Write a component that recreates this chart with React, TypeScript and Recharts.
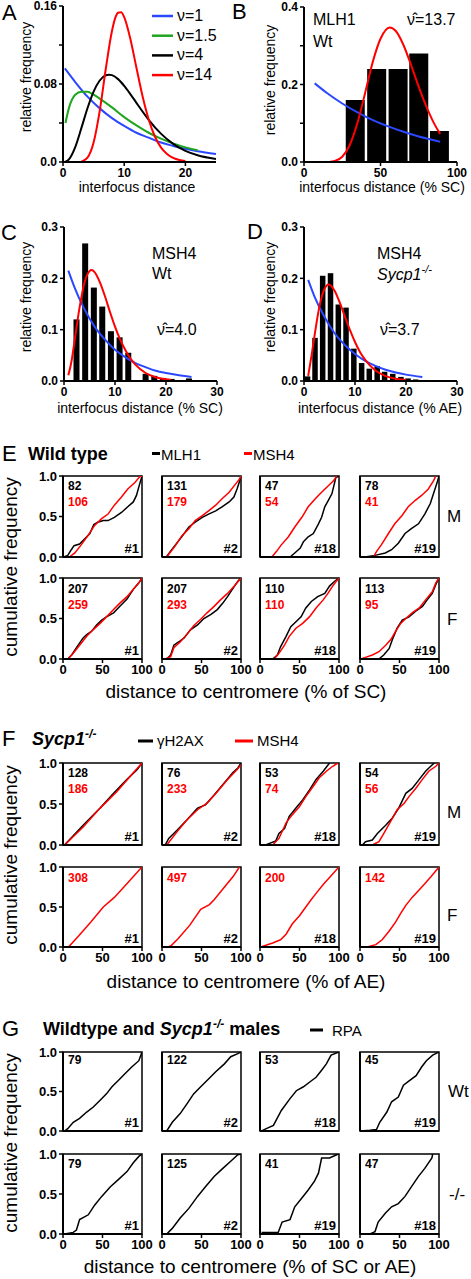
import React from 'react';
import { LineChart, ComposedChart, Line, Bar, XAxis, YAxis, ReferenceArea } from 'recharts';

type Pt = [number, number];

// ---- A: model densities (interfocus distance, mean 10)
const A_LABELS = ['ν=1', 'ν=1.5', 'ν=4', 'ν=14'];
const A_NU1: Pt[] = [[0.3, 0.096], [2, 0.082], [4, 0.067], [6, 0.055], [8, 0.045], [10, 0.037], [12, 0.03], [14, 0.025], [16, 0.02], [18, 0.0165], [20, 0.0135], [22, 0.011], [25, 0.0082]];
const A_NU15: Pt[] = [[0.4, 0.04], [1, 0.056], [2, 0.069], [3, 0.072], [4, 0.072], [5, 0.069], [6, 0.065], [8, 0.056], [10, 0.046], [12, 0.0375], [14, 0.03], [16, 0.024], [18, 0.019], [20, 0.015], [22, 0.012]];
const A_NU4: Pt[] = [[0.3, 0], [1, 0.003], [2, 0.0153], [3, 0.0347], [4, 0.0551], [5, 0.0722], [6, 0.0836], [7, 0.089], [7.5, 0.0896], [8, 0.0891], [9, 0.085], [10, 0.0781], [11, 0.0697], [12, 0.0607], [14, 0.0433], [16, 0.0291], [18, 0.0186], [20, 0.0114], [22, 0.0069], [25, 0.003]];
const A_NU14: Pt[] = [[3, 0.0004], [4, 0.0044], [5, 0.0199], [6, 0.0524], [7, 0.0959], [8, 0.1343], [8.5, 0.147], [9, 0.153], [9.5, 0.1535], [10, 0.1485], [11, 0.1264], [12, 0.0966], [13, 0.0674], [14, 0.0436], [15, 0.0264], [16, 0.015], [17, 0.0082], [18, 0.0042], [19, 0.002], [20, 0.001]];

// ---- B: MLH1 Wt histogram + fits
const B_BIN_X = [33.5, 47.5, 61.5, 75, 88.5];
const B_BIN_Y = [0.16, 0.24, 0.24, 0.28, 0.08];
const B_EXP: Pt[] = [[7, 0.203], [15, 0.178], [25, 0.151], [35, 0.128], [45, 0.108], [55, 0.092], [65, 0.078], [75, 0.066], [85, 0.056], [89, 0.052]];
const B_GAM: Pt[] = [[17, 0.0005], [20, 0.0025], [25, 0.0135], [30, 0.0446], [35, 0.1017], [40, 0.179], [45, 0.259], [50, 0.318], [56, 0.347], [60, 0.338], [65, 0.302], [70, 0.25], [75, 0.194], [80, 0.143], [85, 0.0997], [89, 0.0725]];

// ---- C: MSH4 Wt
const C_BIN_X = [2.45, 4.15, 5.85, 7.5, 9.2, 10.9, 12.6, 14.3, 16.0, 17.7, 19.4, 21.1, 22.8, 24.5];
const C_BIN_Y = [0.12, 0.268, 0.182, 0.145, 0.097, 0.085, 0.055, 0, 0.014, 0.01, 0.006, 0.004, 0, 0.005];
const C_GAM: Pt[] = [[0.85, 0.011], [1.5, 0.04], [2, 0.073], [3, 0.14], [4, 0.191], [5, 0.214], [5.4, 0.216], [6, 0.212], [7, 0.193], [8, 0.166], [9, 0.135], [10, 0.106], [11, 0.081], [12, 0.061], [13, 0.044], [14, 0.032], [16, 0.0156], [18, 0.0073], [20, 0.0033], [21, 0.002]];
const C_EXP: Pt[] = [[0.85, 0.215], [2, 0.184], [4, 0.14], [6, 0.106], [8, 0.081], [10, 0.061], [12, 0.0465], [14, 0.035], [16, 0.027], [18, 0.02], [20, 0.0155], [22, 0.012], [25, 0.0078]];

// ---- D: MSH4 Sycp1-/-
const D_BIN_X = [0.7, 2.16, 3.66, 5.2, 6.73, 8.24, 9.77, 11.3, 12.8, 14.35, 15.8, 17.4, 19.0, 20.4, 21.9, 23.5];
const D_BIN_Y = [0.009, 0.084, 0.205, 0.21, 0.149, 0.143, 0.063, 0.035, 0.024, 0.029, 0.018, 0.014, 0.008, 0.005, 0.003, 0.002];
const D_GAM: Pt[] = [[0.82, 0.01], [1.5, 0.051], [2, 0.084], [3, 0.144], [4, 0.179], [4.87, 0.188], [6, 0.176], [7, 0.153], [8, 0.126], [9, 0.0995], [10, 0.076], [11, 0.056], [12, 0.041], [14, 0.0204], [16, 0.0096], [18, 0.0044], [20, 0.0019]];
const D_EXP: Pt[] = [[0.82, 0.197], [2, 0.166], [4, 0.125], [6, 0.093], [8, 0.07], [10, 0.0525], [12, 0.039], [14, 0.0295], [16, 0.022], [18, 0.0166], [20, 0.0124], [23.2, 0.0078]];

// ---- E: wild type, cumulative distance to centromere
const CHR = ['#1', '#2', '#18', '#19'];
const E_N_M = [[82, 106], [131, 179], [47, 54], [78, 41]];
const E_N_F = [[207, 259], [207, 293], [110, 110], [113, 95]];
const E_M_MLH1: Pt[][] = [
  [[1, 0], [6, 0.02], [10.5, 0.09], [14, 0.14], [21, 0.16], [27, 0.22], [34, 0.29], [39, 0.4], [44, 0.43], [51, 0.45], [57, 0.45], [65, 0.49], [74, 0.55], [82, 0.62], [89, 0.68], [93, 0.76], [97, 0.9], [100, 1]],
  [[5.5, 0], [10.6, 0.07], [17, 0.15], [25, 0.25], [34, 0.37], [42, 0.43], [51, 0.49], [59, 0.53], [68, 0.57], [76, 0.62], [85, 0.68], [91, 0.74], [95, 0.84], [98, 0.93], [100, 1]],
  [[38, 0], [44, 0.05], [51, 0.11], [55, 0.19], [61, 0.25], [67.5, 0.29], [74, 0.41], [78, 0.49], [82, 0.62], [86.5, 0.7], [91, 0.78], [94, 0.9], [96, 0.98], [100, 1]],
  [[6, 0], [19, 0.02], [32, 0.05], [40, 0.09], [48.5, 0.17], [57, 0.29], [65, 0.35], [74, 0.41], [82, 0.53], [89, 0.66], [93, 0.78], [97, 0.9], [100, 1]],
];
const E_M_MSH4: Pt[][] = [
  [[8, 0], [15, 0.05], [23, 0.15], [32, 0.27], [40, 0.39], [48.5, 0.47], [57, 0.53], [65, 0.64], [74, 0.74], [82, 0.84], [91, 0.92], [97, 0.99], [100, 1]],
  [[6, 0], [17, 0.14], [25, 0.26], [34, 0.35], [42, 0.45], [51, 0.51], [59, 0.57], [68, 0.64], [76, 0.72], [85, 0.8], [93, 0.9], [98, 0.96], [100, 1]],
  [[15, 0], [21, 0.07], [27, 0.15], [36, 0.25], [44, 0.37], [53, 0.49], [61, 0.62], [70, 0.72], [78, 0.8], [86.5, 0.88], [93, 0.94], [97, 1]],
  [[17, 0], [21, 0.07], [27, 0.15], [36, 0.29], [44, 0.41], [53, 0.51], [61, 0.62], [70, 0.7], [78, 0.76], [86.5, 0.84], [93, 0.94], [96, 1]],
];
const E_F_MLH1: Pt[][] = [
  [[6, 0], [11, 0.05], [17, 0.14], [25.5, 0.26], [30, 0.3], [36, 0.34], [42.5, 0.42], [49, 0.48], [55, 0.52], [64, 0.57], [72, 0.65], [81, 0.74], [89, 0.86], [96, 0.94], [100, 1]],
  [[6, 0], [11, 0.05], [15, 0.17], [21, 0.21], [28, 0.26], [36, 0.36], [45, 0.42], [53, 0.5], [62, 0.55], [70, 0.61], [77, 0.69], [83, 0.77], [89, 0.86], [96, 0.96], [100, 1]],
  [[16, 0], [22, 0.05], [26, 0.15], [33, 0.28], [39, 0.4], [45.5, 0.46], [52, 0.52], [58, 0.63], [65, 0.71], [73, 0.77], [82, 0.81], [88, 0.9], [94.5, 0.96], [100, 1]],
  [[24, 0], [30, 0.05], [37, 0.13], [41, 0.24], [47, 0.38], [53.5, 0.48], [62, 0.52], [70.5, 0.59], [79, 0.65], [85, 0.73], [91.5, 0.81], [96, 0.92], [100, 1]],
];
const E_F_MSH4: Pt[][] = [
  [[6, 0], [13, 0.07], [21, 0.17], [30, 0.28], [38, 0.36], [47, 0.44], [55, 0.52], [64, 0.61], [72, 0.69], [81, 0.77], [89, 0.86], [96, 0.94], [100, 1]],
  [[4, 0], [11, 0.03], [15, 0.14], [23, 0.21], [32, 0.31], [40, 0.41], [49, 0.49], [57, 0.57], [66, 0.65], [74, 0.73], [83, 0.81], [91.5, 0.9], [100, 1]],
  [[18, 0], [24, 0.07], [31, 0.17], [37, 0.28], [45.5, 0.38], [54, 0.44], [62.5, 0.52], [71, 0.63], [80, 0.73], [86, 0.81], [92, 0.9], [96.6, 0.96], [100, 1]],
  [[1, 0], [7, 0.02], [15.6, 0.05], [24, 0.09], [32.5, 0.17], [39, 0.24], [45, 0.34], [51.5, 0.44], [58, 0.5], [66, 0.57], [75, 0.63], [83, 0.73], [91.5, 0.83], [96, 0.94], [100, 1]],
];

// ---- F: Sycp1-/-
const F_N_M = [[128, 186], [76, 233], [53, 74], [54, 56]];
const F_N_F = [308, 497, 200, 142];
const F_M_H2AX: Pt[][] = [
  [[2, 0], [4, 0.02], [25.5, 0.24], [47, 0.45], [64, 0.63], [68, 0.67], [81, 0.8], [94, 0.92], [100, 1]],
  [[4, 0], [8.5, 0.08], [19, 0.18], [32, 0.31], [45, 0.45], [55, 0.49], [66, 0.61], [79, 0.76], [89.5, 0.88], [96, 0.94], [100, 1]],
  [[7, 0], [20, 0.05], [24, 0.14], [31, 0.2], [37, 0.35], [45.5, 0.45], [54, 0.55], [62.5, 0.67], [71, 0.8], [80, 0.9], [88, 1]],
  [[3, 0], [7, 0.04], [15.6, 0.06], [22, 0.14], [32.5, 0.24], [41, 0.33], [49, 0.45], [58, 0.63], [66, 0.69], [75, 0.8], [83, 0.9], [89.5, 0.96], [94, 1]],
];
const F_M_MSH4: Pt[][] = [
  [[2, 0], [25.5, 0.22], [47, 0.45], [68, 0.65], [89, 0.88], [100, 1]],
  [[6, 0], [19, 0.16], [32, 0.31], [45, 0.43], [57, 0.51], [70, 0.65], [83, 0.8], [96, 0.93], [100, 0.98]],
  [[16, 0], [24, 0.08], [33, 0.27], [41, 0.37], [50, 0.47], [58, 0.59], [67, 0.71], [75, 0.82], [84, 0.9], [92, 0.96], [98.7, 1]],
  [[15.6, 0], [24, 0.04], [30, 0.14], [39, 0.29], [47, 0.43], [56, 0.51], [62, 0.59], [70.5, 0.69], [79, 0.8], [87, 0.9], [96, 0.96], [100, 1]],
];
const F_F_MSH4: Pt[][] = [
  [[7, 0], [20, 0.14], [35, 0.31], [51, 0.5], [65, 0.62], [80, 0.78], [100, 1]],
  [[8, 0], [12, 0.02], [20, 0.1], [35, 0.27], [49, 0.47], [60, 0.53], [66, 0.59], [75, 0.7], [90, 0.88], [98, 1]],
  [[1, 0], [16, 0.05], [26, 0.09], [33, 0.16], [41, 0.29], [50, 0.39], [58, 0.5], [64.7, 0.59], [71, 0.67], [80, 0.78], [90, 0.89], [100, 1]],
  [[9, 0], [20, 0.03], [28, 0.09], [37, 0.2], [45, 0.31], [51.5, 0.42], [58, 0.52], [66, 0.62], [80, 0.77], [90, 0.88], [100, 1]],
];

// ---- G: RPA in wild type and Sycp1-/- males
const G_CHR_KO = ['#1', '#2', '#19', '#18'];
const G_N_WT = [79, 122, 53, 45];
const G_N_KO = [79, 125, 41, 47];
const G_WT: Pt[][] = [
  [[2, 0], [6, 0.03], [13, 0.11], [21, 0.16], [30, 0.24], [38, 0.3], [47, 0.39], [55, 0.47], [62, 0.56], [70, 0.64], [79, 0.73], [87, 0.81], [96, 0.89], [100, 1]],
  [[6, 0], [13, 0.11], [23, 0.22], [32, 0.35], [40, 0.47], [49, 0.56], [57, 0.64], [68, 0.75], [79, 0.85], [87, 0.94], [96, 0.98], [100, 1]],
  [[2, 0], [8, 0.03], [17, 0.07], [27, 0.26], [38, 0.41], [46, 0.51], [55, 0.56], [63, 0.62], [71, 0.68], [78, 0.77], [84, 0.85], [90, 0.96], [100, 1]],
  [[0, 0], [12.6, 0.01], [21, 0.02], [25, 0.11], [34, 0.24], [40, 0.37], [48.5, 0.43], [55, 0.58], [63, 0.64], [71, 0.7], [78, 0.81], [84, 0.89], [92, 0.96], [100, 1]],
];
const G_KO: Pt[][] = [
  [[2, 0], [13, 0.02], [17, 0.05], [21, 0.18], [32, 0.24], [40, 0.36], [49, 0.47], [60, 0.59], [70, 0.68], [81, 0.78], [89, 0.89], [96, 0.97], [100, 1]],
  [[6, 0], [13, 0.07], [23, 0.2], [34, 0.32], [45, 0.47], [55, 0.59], [66, 0.72], [77, 0.82], [87, 0.91], [96, 0.99], [100, 1]],
  [[2, 0.02], [23, 0.02], [28, 0.15], [38, 0.18], [44, 0.34], [53, 0.45], [61, 0.55], [69, 0.66], [74, 0.76], [78, 0.95], [88, 0.95], [97, 0.99], [100, 1]],
  [[12.6, 0], [19, 0.03], [23, 0.15], [32, 0.26], [40, 0.34], [48.5, 0.38], [57, 0.47], [65, 0.59], [74, 0.72], [82, 0.82], [91, 0.95], [92, 1]],
];

// ---- styling / layout
const SANS = '"Liberation Sans", Arial, Helvetica, sans-serif';
const BLUE = '#2a48ff';
const GREEN = '#1fa51f';
const RED = '#ff0000';
const BLACK = '#000000';
const YW = 44;
const MT = 10;
const MR = 16;
const XH = 26;
const AX_LINE = { stroke: '#000', strokeWidth: 2 };
const TICK_LINE = { stroke: '#000', strokeWidth: 1.5 };
const COL_X = [63, 162, 260, 360];
const PW = 79;

const rows = (pts: Pt[]) => pts.map(([x, y]) => ({ x, y }));
const bins = (xs: number[], ys: number[]) => xs.map((x, i) => ({ x, y: ys[i] }));
const tickFont = (size: number) => ({ fontSize: size, fontWeight: 700, fill: '#000', fontFamily: SANS });

// bars are centred on the scale position recharts gives, with a fixed pixel width
const barShape = (w: number) => (p: any) =>
  p.height > 0 ? <rect x={p.x + p.width / 2 - w / 2} y={p.y} width={w} height={p.height} fill="#000" /> : <g />;

function xAx(domain: [number, number], ticks: number[], labels: boolean, size = 13) {
  return (
    <XAxis key="xa" type="number" dataKey="x" domain={domain} ticks={ticks} interval={0} allowDataOverflow
      height={XH} axisLine={AX_LINE} tickLine={TICK_LINE} tickSize={4} tickMargin={2}
      tick={labels ? tickFont(size) : false} />
  );
}

function yAx(domain: [number, number], ticks: number[], fmt: ((v: number) => string) | null, size = 13) {
  return (
    <YAxis key="ya" type="number" domain={domain} ticks={ticks} interval={0} allowDataOverflow width={YW}
      axisLine={AX_LINE} tickLine={TICK_LINE} tickSize={4} tickMargin={2}
      tick={fmt ? tickFont(size) : false} tickFormatter={fmt ?? undefined} />
  );
}

function curve(pts: Pt[], color: string, width: number, key: string, type: 'linear' | 'monotone' = 'linear') {
  return (
    <Line key={key} data={rows(pts)} dataKey="y" type={type} stroke={color} strokeWidth={width}
      dot={false} activeDot={false} isAnimationActive={false} />
  );
}

function Box({ left, top, w, h, bars, children }: { left: number; top: number; w: number; h: number; bars?: { x: number; y: number }[]; children: React.ReactNode }) {
  const size = { width: w + YW + MR, height: h + MT + XH, margin: { top: MT, right: MR, bottom: 0, left: 0 } };
  return (
    <div style={{ position: 'absolute', left: left - YW, top: top - MT }}>
      {bars ? <ComposedChart {...size} data={bars}>{children}</ComposedChart> : <LineChart {...size}>{children}</LineChart>}
    </div>
  );
}

const fmt1 = (v: number) => v.toFixed(1);

function ecdfRow(top: number, h: number, lines: { sets: Pt[][]; color: string }[], showX: boolean, id: string) {
  return COL_X.map((left, c) => (
    <Box key={id + c} left={left} top={top} w={PW} h={h}>
      {[
        xAx([0, 100], [0, 50, 100], showX),
        yAx([0, 1], [0, 0.5, 1], c === 0 ? fmt1 : null),
        <ReferenceArea key="frame" x1={0} x2={100} y1={0} y2={1} fill="none" stroke="#000" strokeWidth={1.5} />,
        ...lines.map((l, i) => curve(l.sets[c], l.color, 1.5, 'c' + i)),
      ]}
    </Box>
  ));
}

function T({ x, y, size = 14, bold, italic, anchor = 'start', fill = '#000', children }: { x: number; y: number; size?: number; bold?: boolean; italic?: boolean; anchor?: 'start' | 'middle' | 'end'; fill?: string; children: React.ReactNode }) {
  return (
    <text x={x} y={y} fontSize={size} fontFamily={SANS} fontWeight={bold ? 700 : 400} fontStyle={italic ? 'italic' : 'normal'} textAnchor={anchor} fill={fill}>
      {children}
    </text>
  );
}

function VT({ x, y, size, text }: { x: number; y: number; size: number; text: string }) {
  return (
    <text transform={`translate(${x},${y}) rotate(-90)`} fontSize={size} fontFamily={SANS} textAnchor="middle" fill="#000">{text}</text>
  );
}

function Counts({ top, bottom, n, chr, dy = 14, single = '#000' }: { top: number; bottom: number; n: (number[] | number)[]; chr: string[]; dy?: number; single?: string }) {
  return (
    <g>
      {COL_X.map((left, c) => {
        const v = n[c];
        return (
          <g key={c}>
            {Array.isArray(v) ? (
              <>
                <T x={left + 5} y={top + dy} size={12} bold>{v[0]}</T>
                <T x={left + 5} y={top + dy + 16} size={12} bold fill={RED}>{v[1]}</T>
              </>
            ) : (
              <T x={left + 5} y={top + dy} size={12} bold fill={single}>{v}</T>
            )}
            <T x={left + PW - 3} y={bottom - 4} size={13} bold anchor="end">{chr[c]}</T>
          </g>
        );
      })}
    </g>
  );
}

export default function App() {
  const aFmt = (v: number) => (v === 0 ? '0.0' : v === 0.08 || v === 0.16 ? String(v) : '');
  const bFmt = (v: number) => (v === 0 ? '0.0' : v === 0.2 || v === 0.4 ? String(v) : '');
  const legendA = [BLUE, GREEN, BLACK, RED];
  return (
    <div style={{ position: 'absolute', left: 0, top: 0, width: 471, height: 1279, background: '#fff', overflow: 'hidden' }}>
      {/* A */}
      <Box left={63} top={6} w={153} h={156}>
        {[
          xAx([0, 25], [0, 10, 20], true, 12),
          yAx([0, 0.16], [0, 0.04, 0.08, 0.12, 0.16], aFmt, 12),
          curve(A_NU1, BLUE, 2, 'n1', 'monotone'),
          curve(A_NU15, GREEN, 2, 'n15', 'monotone'),
          curve(A_NU4, BLACK, 2, 'n4', 'monotone'),
          curve(A_NU14, RED, 2, 'n14', 'monotone'),
        ]}
      </Box>
      {/* B */}
      <Box left={304} top={7} w={153} h={155} bars={bins(B_BIN_X, B_BIN_Y)}>
        {[
          xAx([0, 100], [0, 50, 100], true, 12),
          yAx([0, 0.4], [0, 0.1, 0.2, 0.3, 0.4], bFmt, 12),
          <Bar key="b" dataKey="y" fill="#000" shape={barShape(19)} isAnimationActive={false} />,
          curve(B_EXP, BLUE, 2, 'e', 'monotone'),
          curve(B_GAM, RED, 2, 'g', 'monotone'),
        ]}
      </Box>
      {/* C */}
      <Box left={64} top={227} w={153} h={154} bars={bins(C_BIN_X, C_BIN_Y)}>
        {[
          xAx([0, 30], [0, 10, 20, 30], true, 12),
          yAx([0, 0.3], [0, 0.1, 0.2, 0.3], fmt1, 12),
          <Bar key="b" dataKey="y" fill="#000" shape={barShape(6)} isAnimationActive={false} />,
          curve(C_EXP, BLUE, 2, 'e', 'monotone'),
          curve(C_GAM, RED, 2, 'g', 'monotone'),
        ]}
      </Box>
      {/* D */}
      <Box left={304} top={227} w={153} h={154} bars={bins(D_BIN_X, D_BIN_Y)}>
        {[
          xAx([0, 30], [0, 10, 20, 30], true, 12),
          yAx([0, 0.3], [0, 0.1, 0.2, 0.3], fmt1, 12),
          <Bar key="b" dataKey="y" fill="#000" shape={barShape(5.5)} isAnimationActive={false} />,
          curve(D_EXP, BLUE, 2, 'e', 'monotone'),
          curve(D_GAM, RED, 2, 'g', 'monotone'),
        ]}
      </Box>

      {ecdfRow(476, 81, [{ sets: E_M_MLH1, color: BLACK }, { sets: E_M_MSH4, color: RED }], false, 'em')}
      {ecdfRow(578, 81, [{ sets: E_F_MLH1, color: BLACK }, { sets: E_F_MSH4, color: RED }], true, 'ef')}
      {ecdfRow(763, 82, [{ sets: F_M_H2AX, color: BLACK }, { sets: F_M_MSH4, color: RED }], false, 'fm')}
      {ecdfRow(867, 80, [{ sets: F_F_MSH4, color: RED }], true, 'ff')}
      {ecdfRow(1052, 79, [{ sets: G_WT, color: BLACK }], false, 'gw')}
      {ecdfRow(1154, 80, [{ sets: G_KO, color: BLACK }], true, 'gk')}

      <svg width={471} height={1279} style={{ position: 'absolute', left: 0, top: 0, pointerEvents: 'none' }}>
        {/* panel letters */}
        <T x={2} y={20} size={22}>A</T>
        <T x={232} y={19} size={22}>B</T>
        <T x={1} y={240} size={22}>C</T>
        <T x={247} y={239} size={22}>D</T>
        <T x={2} y={461} size={22}>E</T>
        <T x={2} y={746} size={22}>F</T>
        <T x={2} y={1036} size={22}>G</T>

        {/* A */}
        <VT x={31} y={77} size={14} text="relative frequency" />
        <T x={137} y={192} anchor="middle">interfocus distance</T>
        {A_LABELS.map((s, i) => (
          <g key={s}>
            <line x1={152} x2={173} y1={16 + i * 19.7} y2={16 + i * 19.7} stroke={legendA[i]} strokeWidth={2.5} />
            <T x={177} y={21 + i * 19.7} size={16}>{s}</T>
          </g>
        ))}

        {/* B */}
        <VT x={275} y={80} size={14} text="relative frequency" />
        <T x={382} y={192} anchor="middle">interfocus distance (% SC)</T>
        <T x={313} y={25} size={16}>MLH1</T>
        <T x={313} y={46.5} size={16}>Wt</T>
        <T x={407} y={25} size={16}>{'ν\u0302=13.7'}</T>

        {/* C */}
        <VT x={31} y={297} size={14} text="relative frequency" />
        <T x={140} y={413} anchor="middle">interfocus distance (% SC)</T>
        <T x={152} y={259} size={16}>MSH4</T>
        <T x={152} y={279} size={16}>Wt</T>
        <T x={157} y={335} size={16}>{'ν\u0302=4.0'}</T>

        {/* D */}
        <VT x={275} y={297} size={14} text="relative frequency" />
        <T x={380} y={413} anchor="middle">interfocus distance (% AE)</T>
        <T x={377} y={259} size={16}>MSH4</T>
        <T x={377} y={279.5} size={16} italic>Sycp1<tspan fontSize={11} dy={-7}>-/-</tspan></T>
        <T x={380} y={335} size={16}>{'ν\u0302=3.7'}</T>

        {/* E */}
        <T x={28} y={460} size={18} bold>Wild type</T>
        <line x1={152} x2={160} y1={453.5} y2={453.5} stroke={BLACK} strokeWidth={3} />
        <T x={161} y={460} size={15}>MLH1</T>
        <line x1={244} x2={252} y1={453.5} y2={453.5} stroke={RED} strokeWidth={3} />
        <T x={253} y={460} size={15}>MSH4</T>
        <T x={447} y={522} size={17}>M</T>
        <T x={447} y={625} size={17}>F</T>
        <VT x={17} y={567} size={19} text="cumulative frequency" />
        <T x={246} y={698} size={19} anchor="middle">distance to centromere (% of SC)</T>
        <Counts top={476} bottom={557} n={E_N_M} chr={CHR} />
        <Counts top={578} bottom={659} n={E_N_F} chr={CHR} dy={15} />

        {/* F */}
        <T x={32} y={745} size={18} bold italic>Sycp1<tspan fontSize={12} dy={-7}>-/-</tspan></T>
        <line x1={138} x2={153} y1={741} y2={741} stroke={BLACK} strokeWidth={3} />
        <T x={157} y={746} size={15}>γH2AX</T>
        <line x1={235} x2={253} y1={741} y2={741} stroke={RED} strokeWidth={3} />
        <T x={257} y={746} size={15}>MSH4</T>
        <T x={447} y={818} size={17}>M</T>
        <T x={447} y={921} size={17}>F</T>
        <VT x={17} y={855} size={19} text="cumulative frequency" />
        <T x={246} y={988} size={19} anchor="middle">distance to centromere (% of AE)</T>
        <Counts top={763} bottom={845} n={F_N_M} chr={CHR} />
        <Counts top={867} bottom={947} n={F_N_F} chr={CHR} dy={15} single={RED} />

        {/* G */}
        <T x={43} y={1035} size={18} bold>
          Wildtype and <tspan fontStyle="italic">Sycp1</tspan>
          <tspan fontSize={12} dy={-7} fontStyle="italic">-/-</tspan>
          <tspan dy={7}> males</tspan>
        </T>
        <line x1={310} x2={323} y1={1030} y2={1030} stroke={BLACK} strokeWidth={3} />
        <T x={332} y={1036} size={15}>RPA</T>
        <T x={448} y={1097} size={17}>Wt</T>
        <T x={449} y={1200} size={17}>-/-</T>
        <VT x={17} y={1143} size={19} text="cumulative frequency" />
        <T x={250} y={1273} size={19} anchor="middle">distance to centromere (% of SC or AE)</T>
        <Counts top={1052} bottom={1131} n={G_N_WT} chr={CHR} dy={12} />
        <Counts top={1154} bottom={1234} n={G_N_KO} chr={G_CHR_KO} dy={14} />
      </svg>
    </div>
  );
}
